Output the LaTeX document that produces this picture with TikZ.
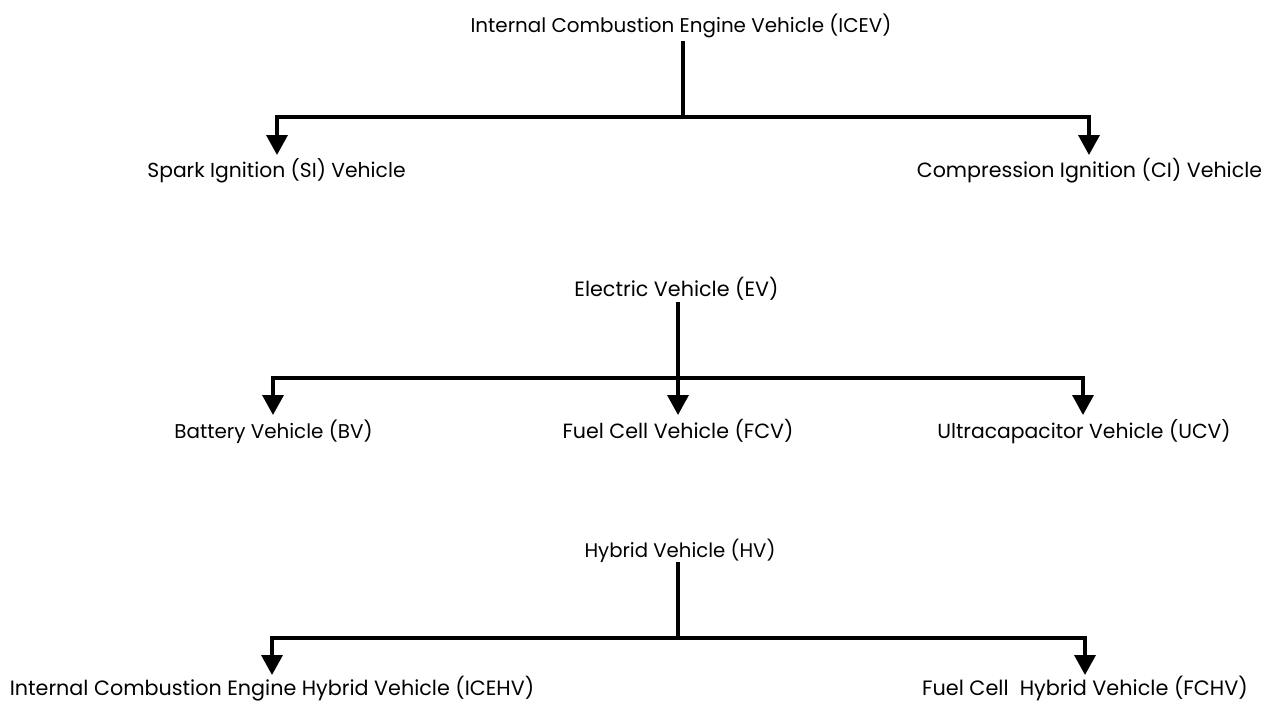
\documentclass[tikz,border=0pt]{standalone}
\usepackage{fontspec}
\setmainfont{Poppins}
\usetikzlibrary{arrows.meta}
\tikzset{
  lbl/.style={anchor=base, inner sep=0pt, font=\fontsize{#1}{24}\selectfont},
  lbl/.default=20.4,
  line/.style={line width=3.5pt, line join=miter},
  arr/.style={line, -{Triangle[width=21pt,length=20pt]}},
}
\begin{document}
\begin{tikzpicture}[x=1pt,y=-1pt]
\useasboundingbox (0,0) rectangle (1267,701);
% ICEV
\node[lbl=19.9] (icev) at (681,33) {Internal Combustion Engine Vehicle (ICEV)};
\node[lbl=20.3] (si) at (276.5,177) {Spark Ignition (SI) Vehicle};
\node[lbl=20.6] (ci) at (1089.5,177) {Compression Ignition (CI) Vehicle};
\coordinate (icevs) at (683,41);
\coordinate (icevj) at (683,117);
\coordinate (sit) at (277,155);
\coordinate (cit) at (1089,155);
\draw[line] (icevs) -- (icevj);
\draw[arr] (icevj) -| (sit);
\draw[arr] (icevj) -| (cit);
% EV
\node[lbl=20.7] (ev) at (676.5,296) {Electric Vehicle (EV)};
\node[lbl=19.9] (bv) at (273.5,438) {Battery Vehicle (BV)};
\node[lbl=20.6] (fcv) at (678,438) {Fuel Cell Vehicle (FCV)};
\node[lbl=20.35] (ucv) at (1084,438) {Ultracapacitor Vehicle (UCV)};
\coordinate (evs) at (678,302);
\coordinate (evj) at (678,378);
\coordinate (bvt) at (273,415);
\coordinate (fcvt) at (678,415);
\coordinate (ucvt) at (1083,415);
\draw[arr] (evs) -- (fcvt);
\draw[arr] (evj) -| (bvt);
\draw[arr] (evj) -| (ucvt);
% HV
\node[lbl=19.7] (hv) at (680,557) {Hybrid Vehicle (HV)};
\node[lbl=20.7] (icehv) at (272,695) {Internal Combustion Engine Hybrid Vehicle (ICEHV)};
\node[lbl=20.8] (fchv) at (1085,695) {Fuel Cell\ \ Hybrid Vehicle (FCHV)};
\coordinate (hvs) at (678,562);
\coordinate (hvj) at (678,638);
\coordinate (icehvt) at (272,675);
\coordinate (fchvt) at (1085,675);
\draw[line] (hvs) -- (hvj);
\draw[arr] (hvj) -| (icehvt);
\draw[arr] (hvj) -| (fchvt);
\end{tikzpicture}
\end{document}
